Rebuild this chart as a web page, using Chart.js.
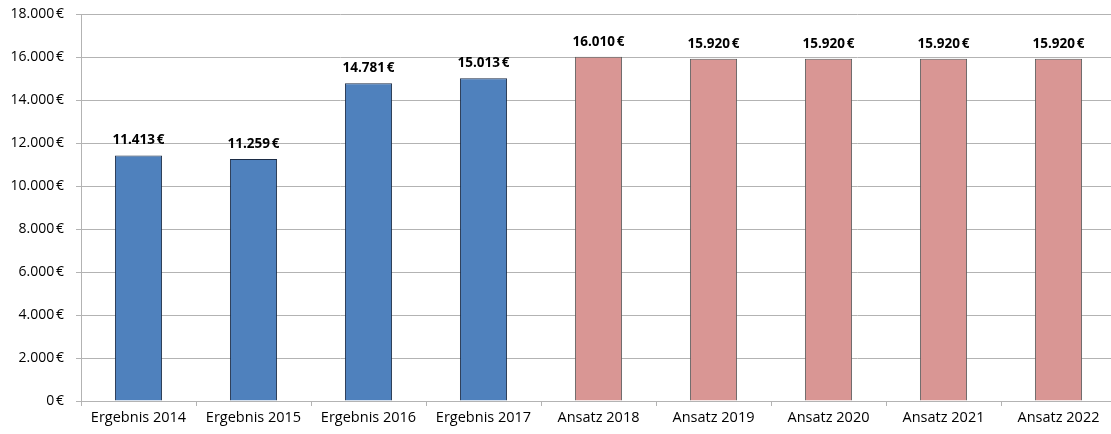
<html lang="de">
<head>
<meta charset="UTF-8">
<script src="https://cdn.jsdelivr.net/npm/chart.js@4.4.0/dist/chart.umd.min.js"></script>
<title>Ergebnis / Ansatz</title>
<style>
  html, body { margin: 0; padding: 0; background: #fff; overflow: hidden; }
  #wrap { width: 1120px; height: 434px; }
</style>
</head>
<body>
<div id="wrap"><canvas id="chart"></canvas></div>
<script>
const categories = ['Ergebnis 2014', 'Ergebnis 2015', 'Ergebnis 2016', 'Ergebnis 2017',
                    'Ansatz 2018', 'Ansatz 2019', 'Ansatz 2020', 'Ansatz 2021', 'Ansatz 2022'];
const values = [11413, 11259, 14781, 15013, 16010, 15920, 15920, 15920, 15920];
const isResult = [true, true, true, true, false, false, false, false, false];

const fmt = v => v.toLocaleString('de-DE') + '\u202F€';
const gridGray = '#b3b3b3';
const font = "'Open Sans', 'Noto Sans', sans-serif";

// draws the value above each bar
const valueLabels = {
  id: 'valueLabels',
  afterDatasetsDraw(chart) {
    const ctx = chart.ctx;
    ctx.save();
    ctx.font = 'bold 13.5px ' + font;
    ctx.fillStyle = '#000';
    ctx.textAlign = 'center';
    ctx.textBaseline = 'middle';
    chart.getDatasetMeta(0).data.forEach((bar, i) => {
      ctx.fillText(fmt(values[i]), bar.x, bar.y - 15);
    });
    ctx.restore();
  }
};

new Chart(document.getElementById('chart'), {
  type: 'bar',
  data: {
    labels: categories,
    datasets: [{
      data: values,
      backgroundColor: isResult.map(r => r ? '#4f81bd' : '#d99694'),
      borderColor: isResult.map(r => r ? '#1c2c45' : '#5e5e5e'),
      borderWidth: 1,
      barPercentage: 0.41,
      categoryPercentage: 1
    }]
  },
  options: {
    responsive: true,
    maintainAspectRatio: false,
    animation: false,
    layout: { padding: { top: 14, right: 4, left: 0, bottom: 0 } },
    plugins: { legend: { display: false }, tooltip: { enabled: false } },
    scales: {
      x: {
        grid: { display: true, drawOnChartArea: false, drawTicks: true, tickLength: 5, color: gridGray, offset: true },
        border: { display: true, color: gridGray },
        ticks: { color: '#000', font: { family: font, size: 14.5 }, padding: 3, maxRotation: 0 },
        afterFit(scale) { scale.height = 33; }
      },
      y: {
        min: 0,
        max: 18000,
        grid: { color: gridGray, tickLength: 5, drawTicks: true },
        border: { display: true, color: gridGray },
        ticks: {
          stepSize: 2000,
          color: '#000',
          font: { family: font, size: 14 },
          padding: 12,
          callback: v => fmt(v)
        },
        afterFit(scale) {
          scale.width = 81;
          scale.paddingTop = 0;
          scale.paddingBottom = 0;
        }
      }
    }
  },
  plugins: [valueLabels]
});
</script>
</body>
</html>
